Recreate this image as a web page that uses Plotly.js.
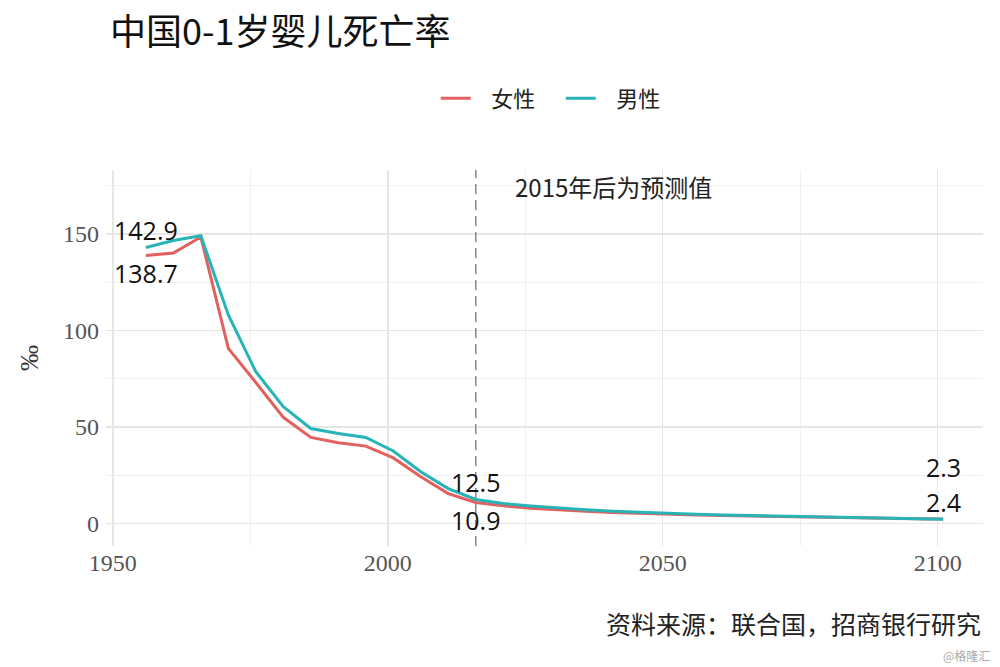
<!DOCTYPE html>
<html>
<head>
<meta charset="utf-8">
<script src="https://cdn.plot.ly/plotly-3.0.1.min.js"></script>
<style>
  html, body { margin: 0; padding: 0; background: #fff; }
  #chart { width: 1000px; height: 667px; }
</style>
</head>
<body>
<div id="chart"></div>
<script>
// years of the UN series (5-year steps), values in ‰
const years = [1956, 1961, 1966, 1971, 1976, 1981, 1986, 1991, 1996, 2001, 2006, 2011, 2016,
  2021, 2026, 2031, 2036, 2041, 2046, 2051, 2056, 2061, 2066, 2071, 2076, 2081, 2086, 2091, 2096, 2101];
const female = [138.7, 140.0, 148.3, 90.7, 73.0, 55.0, 44.6, 41.8, 40.1, 34.0, 24.2, 15.5, 10.9,
  9.2, 8.0, 7.1, 6.4, 5.8, 5.3, 4.9, 4.5, 4.2, 3.9, 3.6, 3.4, 3.1, 2.9, 2.7, 2.5, 2.4];
const male = [142.9, 146.5, 149.0, 108.0, 78.6, 60.5, 49.2, 46.6, 44.6, 37.6, 26.8, 18.1, 12.5,
  10.4, 9.1, 8.0, 7.1, 6.4, 5.8, 5.3, 4.8, 4.4, 4.1, 3.8, 3.5, 3.2, 3.0, 2.7, 2.5, 2.3];
const seriesNames = ['女性', '男性'];
const seriesColors = ['#e2605e', '#28b3b7'];
const forecastYear = 2016;
const labelIdx = [0, 12, years.length - 1];

const cjk = '"Noto Sans CJK SC", "Noto Sans", sans-serif';
const serif = '"Liberation Serif", "DejaVu Serif", serif';
const labelFont = { family: '"Open Sans", "Noto Sans", sans-serif', size: 25, color: '#111' };

const traces = [female, male].map(function (vals, i) {
  return {
    x: years,
    y: vals,
    mode: 'lines',
    // small gap between swatch and text, as in the source
    name: '\u2002\u2009' + seriesNames[i],
    line: { color: seriesColors[i], width: 3 },
    hoverinfo: 'skip'
  };
});

const annotations = [];
labelIdx.forEach(function (k) {
  const last = k === years.length - 1;
  annotations.push({
    x: years[k], y: male[k], text: String(male[k]), showarrow: false,
    xanchor: 'center', yanchor: 'middle', yshift: last ? 52 : 17, font: labelFont
  });
  annotations.push({
    x: years[k], y: female[k], text: String(female[k]), showarrow: false,
    xanchor: 'center', yanchor: 'middle', yshift: last ? 17 : -17, font: labelFont
  });
});
annotations.push({
  x: 2041, y: 174.5, text: '2015年后为预测值', showarrow: false,
  xanchor: 'center', yanchor: 'middle',
  font: { family: cjk, size: 24, color: '#222' }
});
annotations.push({
  xref: 'paper', yref: 'paper', x: 1.0, y: -0.205, text: '资料来源：联合国，招商银行研究',
  showarrow: false, xanchor: 'right', yanchor: 'middle',
  font: { family: cjk, size: 25, color: '#222' }
});
annotations.push({
  xref: 'paper', yref: 'paper', x: 1.01, y: -0.29, text: '@格隆汇',
  showarrow: false, xanchor: 'right', yanchor: 'middle',
  font: { family: cjk, size: 12, color: '#aaa' }
});

const layout = {
  width: 1000,
  height: 667,
  paper_bgcolor: '#ffffff',
  plot_bgcolor: '#ffffff',
  margin: { l: 106, r: 17, t: 170, b: 121 },
  title: {
    text: '中国0-1岁婴儿死亡率',
    x: 0.11, xanchor: 'left', y: 0.952, yanchor: 'middle',
    font: { family: cjk, size: 36, color: '#111' }
  },
  showlegend: true,
  legend: {
    orientation: 'h', x: 0.376, xanchor: 'left', y: 1.19, yanchor: 'middle',
    font: { family: cjk, size: 22, color: '#222' },
    entrywidth: 80, entrywidthmode: 'pixels'
  },
  xaxis: {
    range: [1948.75, 2108.25],
    tickvals: [1950, 2000, 2050, 2100],
    showgrid: true, gridcolor: '#e6e6e6', gridwidth: 1.5,
    minor: { dtick: 25, tick0: 1950, showgrid: true, gridcolor: '#f0f0f0', gridwidth: 1 },
    zeroline: false, showline: false, ticks: '',
    tickfont: { family: serif, size: 24, color: '#555' },
    fixedrange: true
  },
  yaxis: {
    range: [-11.6, 183],
    tickvals: [0, 50, 100, 150],
    showgrid: true, gridcolor: '#e6e6e6', gridwidth: 1.5,
    minor: { dtick: 25, tick0: 0, showgrid: true, gridcolor: '#f0f0f0', gridwidth: 1 },
    zeroline: false, showline: false, ticks: '',
    ticklabelstandoff: 6,
    tickfont: { family: serif, size: 24, color: '#555' },
    title: { text: '‰', standoff: 16, font: { family: serif, size: 26, color: '#333' } },
    fixedrange: true
  },
  shapes: [{
    type: 'line', xref: 'x', yref: 'paper',
    x0: forecastYear, x1: forecastYear, y0: 0, y1: 1,
    line: { color: '#888', width: 1.5, dash: '10px,6px' }
  }],
  annotations: annotations
};

Plotly.newPlot('chart', traces, layout, { displayModeBar: false, staticPlot: true });
</script>
</body>
</html>
